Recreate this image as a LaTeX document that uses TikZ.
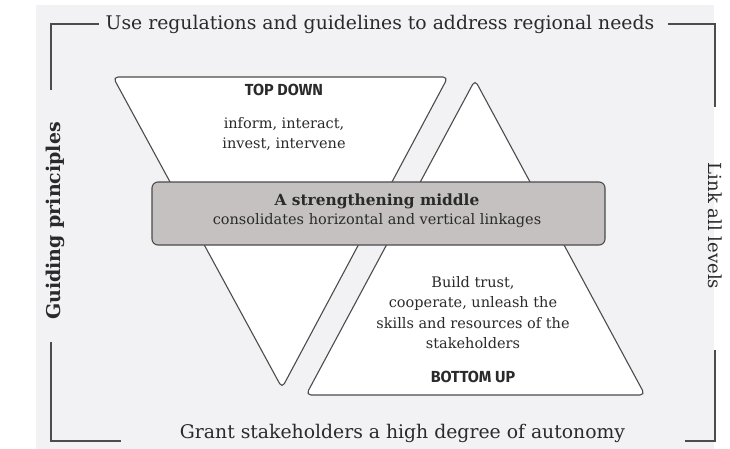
\documentclass[tikz,border=0pt]{standalone}
\usepackage{fontspec}
\setmainfont{DejaVu Serif}
\newfontfamily\markfont{Fira Sans}
\definecolor{bg}{HTML}{F2F1F3}
\definecolor{ink}{HTML}{2A2A2A}
\definecolor{edge}{HTML}{4C4C4C}
\definecolor{midfill}{HTML}{C4C1C0}
\tikzset{
  bracket/.style={draw=edge, line width=1.3pt},
  tri/.style={draw=edge, fill=white, line width=1.1pt, rounded corners=5pt},
  bigtext/.style={text=ink, font=\fontsize{18.8}{24}\selectfont, inner sep=0pt},
  smalltext/.style={text=ink, font=\fontsize{14.5}{20.5}\selectfont, align=center, inner sep=0pt},
  marktext/.style={text=ink, font=\markfont\bfseries\fontsize{16}{18}\selectfont, inner sep=0pt}
}
\begin{document}
\begin{tikzpicture}[x=1pt,y=-1pt]
\useasboundingbox (0,0) rectangle (730,449);
\fill[white] (0,0) rectangle (730,449);
\fill[bg] (36,5) rectangle (714,449);

% triangles
\draw[tri] (113,77) -- (448,77) -- (282,388) -- cycle;
\draw[tri] (475,80) -- (645,395) -- (306,395) -- cycle;

% middle box
\node[draw=edge, fill=midfill, line width=1.1pt, rounded corners=6pt,
      minimum width=453pt, minimum height=63pt, inner sep=0pt] (mid) at (378.5,213.5) {};
\node[smalltext, font=\bfseries\fontsize{15.4}{20}\selectfont] (midtitle) at (377,201) {A strengthening middle};
\node[smalltext] (midsub) at (377,221) {consolidates horizontal and vertical linkages};

% triangle texts
\node[marktext] (topdown) at (284,90) {TOP DOWN};
\node[smalltext] (topbody) at (284,134) {inform, interact,\\invest, intervene};
\node[smalltext] (botbody) at (473,312.5) {Build trust,\\cooperate, unleash the\\skills and resources of the\\stakeholders};
\node[marktext] (bottomup) at (473,377) {BOTTOM UP};

% frame texts
\node[bigtext] (toptext) at (380,24) {Use regulations and guidelines to address regional needs};
\node[bigtext] (bottext) at (402.5,433) {Grant stakeholders a high degree of autonomy};
\node[bigtext, font=\bfseries\fontsize{19}{24}\selectfont, rotate=90] (lefttext) at (55,221) {Guiding principles};
\node[bigtext, font=\fontsize{18}{22}\selectfont, rotate=-90] (righttext) at (715,226) {Link all levels};

% frame brackets
\coordinate (tl1) at (51,90);
\coordinate (tr1) at (715,107);
\coordinate (bl1) at (51,342);
\coordinate (br1) at (715,350);
\draw[bracket] ([xshift=-7pt]toptext.west) -| (tl1);
\draw[bracket] ([xshift=14pt]toptext.east) -| (tr1);
\draw[bracket] (bl1) |- (121,441);
\draw[bracket] (br1) |- (685,441);
\end{tikzpicture}
\end{document}
